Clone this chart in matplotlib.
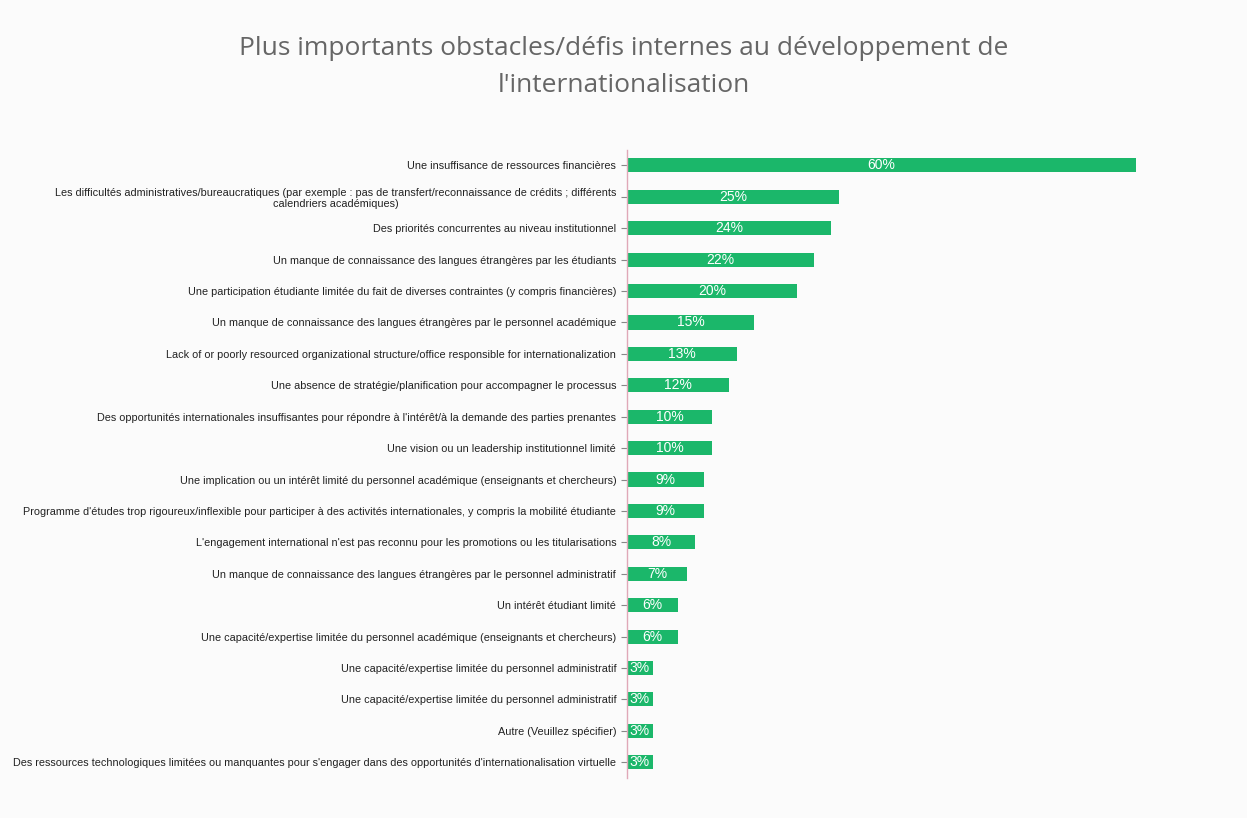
import matplotlib.pyplot as plt
import numpy as np

title = "Plus importants obstacles/défis internes au développement de\nl'internationalisation"

categories = [
    "Une insuffisance de ressources financières",
    "Les difficultés administratives/bureaucratiques (par exemple : pas de transfert/reconnaissance de crédits ; différents\ncalendriers académiques)",
    "Des priorités concurrentes au niveau institutionnel",
    "Un manque de connaissance des langues étrangères par les étudiants",
    "Une participation étudiante limitée du fait de diverses contraintes (y compris financières)",
    "Un manque de connaissance des langues étrangères par le personnel académique",
    "Lack of or poorly resourced organizational structure/office responsible for internationalization",
    "Une absence de stratégie/planification pour accompagner le processus",
    "Des opportunités internationales insuffisantes pour répondre à l'intérêt/à la demande des parties prenantes",
    "Une vision ou un leadership institutionnel limité",
    "Une implication ou un intérêt limité du personnel académique (enseignants et chercheurs)",
    "Programme d'études trop rigoureux/inflexible pour participer à des activités internationales, y compris la mobilité étudiante",
    "L'engagement international n'est pas reconnu pour les promotions ou les titularisations",
    "Un manque de connaissance des langues étrangères par le personnel administratif",
    "Un intérêt étudiant limité",
    "Une capacité/expertise limitée du personnel académique (enseignants et chercheurs)",
    "Une capacité/expertise limitée du personnel administratif",
    "Une capacité/expertise limitée du personnel administratif",
    "Autre (Veuillez spécifier)",
    "Des ressources technologiques limitées ou manquantes pour s'engager dans des opportunités d'internationalisation virtuelle",
]
values = [60, 25, 24, 22, 20, 15, 13, 12, 10, 10, 9, 9, 8, 7, 6, 6, 3, 3, 3, 3]

bar_color = '#1bb76a'

fig = plt.figure(figsize=(12.47, 8.18), dpi=100)
fig.patch.set_facecolor('#fbfbfb')
ax = fig.add_axes([0.503, 0.049, 0.408, 0.768])
ax.set_facecolor('#fbfbfb')

y = np.arange(len(categories))
bars = ax.barh(y, values, height=0.45, color=bar_color)
for b, v in zip(bars, values):
    ax.text(b.get_width() / 2, b.get_y() + b.get_height() / 2, f"{v}%",
            ha='center', va='center', color='white', fontsize=10,
            family='Liberation Sans')

ax.set_yticks(y)
ax.set_yticklabels(categories, fontsize=7.8, family='Liberation Sans',
                   color='#222222', multialignment='center')
ax.set_ylim(len(categories) - 0.5, -0.5)
ax.set_xlim(0, 60)
ax.set_xticks([])

for s in ['top', 'right', 'bottom']:
    ax.spines[s].set_visible(False)
ax.spines['left'].set_color('#e0a8b8')
ax.spines['left'].set_linewidth(1)
ax.tick_params(axis='y', length=4, color='#888888', pad=4)

fig.text(0.5, 0.918, title, ha='center', va='center', fontsize=19,
         color='#666666', family='Open Sans', linespacing=1.6)

plt.savefig('out.png', dpi=100, facecolor=fig.get_facecolor())
plt.close()
